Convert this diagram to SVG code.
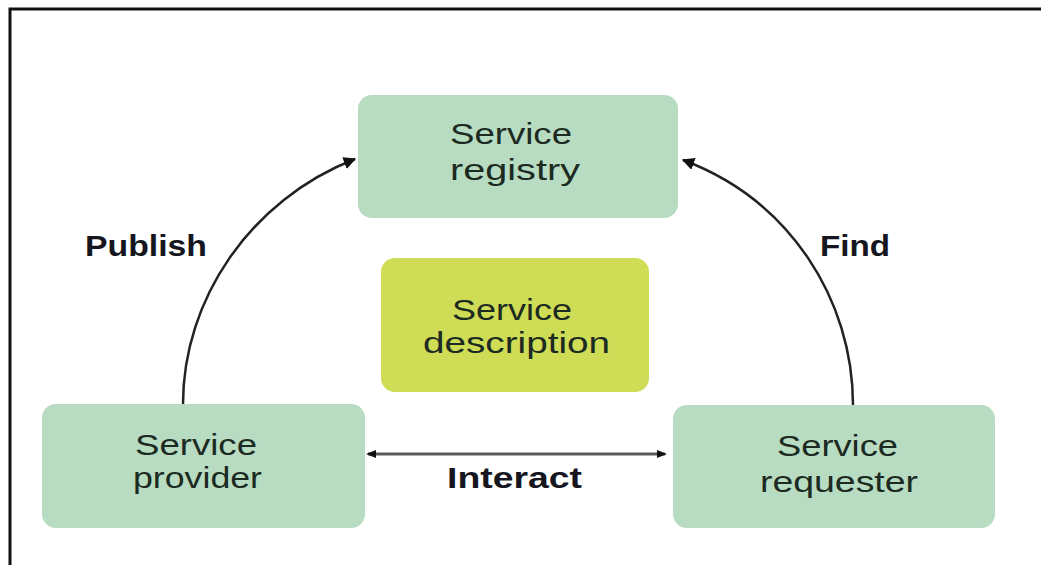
<svg xmlns="http://www.w3.org/2000/svg" width="1041" height="565" viewBox="0 0 1041 565">
  <style>
    .node { fill: #b7dcc1; }
    .desc { fill: #cedd55; }
    .label { font-family: "Liberation Sans", Arial, sans-serif; font-size: 29px; fill: #1c2a22; }
    .edge-label { font-family: "Liberation Sans", Arial, sans-serif; font-size: 30px; font-weight: bold; fill: #161620; }
    .conn { fill: none; stroke: #222; stroke-width: 2.5; }
    .link { fill: none; stroke: #5a5a5a; stroke-width: 3; }
  </style>
  <defs>
    <marker id="head" viewBox="0 0 10 10" refX="9" refY="5" markerWidth="5" markerHeight="5" orient="auto-start-reverse" markerUnits="strokeWidth">
      <path d="M0,0 L10,5 L0,10 Z" fill="#111"/>
    </marker>
    <marker id="dot" viewBox="0 0 10 10" refX="8" refY="5" markerWidth="3.5" markerHeight="3.5" orient="auto-start-reverse" markerUnits="strokeWidth">
      <path d="M0,1 L10,5 L0,9 Z" fill="#111"/>
    </marker>
  </defs>

  <rect width="1041" height="565" fill="#ffffff"/>
  <!-- frame -->
  <path d="M10,565 L10,9 L1041,9" fill="none" stroke="#111" stroke-width="3"/>

  <g id="connectors">
    <path id="publish" class="conn" d="M183,404 C183,300 250,200 355,159" marker-end="url(#head)"/>
    <path id="find" class="conn" d="M853,405 C853,300 790,200 683,160" marker-end="url(#head)"/>
    <path id="interact" class="link" d="M368,454 L665,454" marker-start="url(#dot)" marker-end="url(#dot)"/>
    <text class="edge-label" x="85" y="256" textLength="122" lengthAdjust="spacingAndGlyphs">Publish</text>
    <text class="edge-label" x="820" y="256" textLength="70" lengthAdjust="spacingAndGlyphs">Find</text>
    <text class="edge-label" x="447" y="488" textLength="135" lengthAdjust="spacingAndGlyphs">Interact</text>
  </g>

  <g id="service-registry">
    <rect class="node" x="358" y="95" width="320" height="123" rx="14"/>
    <text class="label" x="450" y="144" textLength="122" lengthAdjust="spacingAndGlyphs">Service</text>
    <text class="label" x="450" y="180" textLength="130" lengthAdjust="spacingAndGlyphs">registry</text>
  </g>

  <g id="service-description">
    <rect class="desc" x="381" y="258" width="268" height="134" rx="14"/>
    <text class="label" x="452" y="320" textLength="120" lengthAdjust="spacingAndGlyphs">Service</text>
    <text class="label" x="423" y="353" textLength="187" lengthAdjust="spacingAndGlyphs">description</text>
  </g>

  <g id="service-provider">
    <rect class="node" x="42" y="404" width="323" height="124" rx="14"/>
    <text class="label" x="135" y="455" textLength="122" lengthAdjust="spacingAndGlyphs">Service</text>
    <text class="label" x="133" y="488" textLength="129" lengthAdjust="spacingAndGlyphs">provider</text>
  </g>

  <g id="service-requester">
    <rect class="node" x="673" y="405" width="322" height="123" rx="14"/>
    <text class="label" x="777" y="456" textLength="121" lengthAdjust="spacingAndGlyphs">Service</text>
    <text class="label" x="760" y="492" textLength="158" lengthAdjust="spacingAndGlyphs">requester</text>
  </g>
</svg>
